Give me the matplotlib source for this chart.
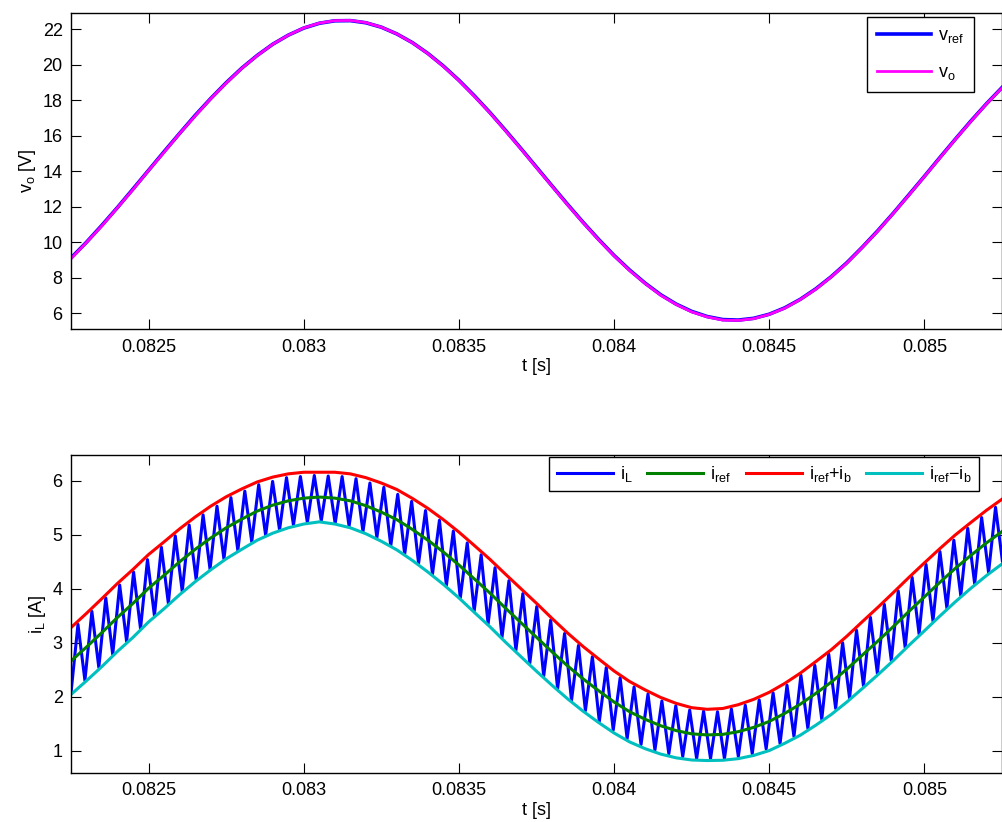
import numpy as np
import matplotlib
matplotlib.use("Agg")
import matplotlib.pyplot as plt

plt.rcParams['font.family'] = ['Liberation Sans', 'DejaVu Sans']
plt.rcParams['mathtext.fontset'] = 'custom'
plt.rcParams['mathtext.rm'] = 'Liberation Sans'
plt.rcParams['font.size'] = 13

# reference waveforms, sampled every 50 us from 0.08225 s to 0.08525 s
t_grid = np.linspace(0.08225, 0.08525, 61)

v_ref = [9.12, 10.01, 10.97, 11.97, 13.01, 14.06, 15.11, 16.14, 17.15, 18.10,
         18.99, 19.81, 20.53, 21.16, 21.67, 22.07, 22.34, 22.48, 22.49, 22.37,
         22.12, 21.74, 21.25, 20.64, 19.93, 19.13, 18.25, 17.31, 16.31, 15.28,
         14.23, 13.18, 12.14, 11.13, 10.17, 9.26, 8.44, 7.70, 7.05, 6.52,
         6.11, 5.82, 5.65, 5.62, 5.72, 5.95, 6.31, 6.79, 7.38, 8.07,
         8.85, 9.73, 10.66, 11.65, 12.68, 13.72, 14.78, 15.82, 16.84, 17.81,
         18.72]
v_o = [9.08, 10.00, 10.94, 11.96, 12.98, 14.05, 15.08, 16.13, 17.12, 18.09,
       18.97, 19.80, 20.52, 21.16, 21.67, 22.08, 22.35, 22.49, 22.50, 22.38,
       22.12, 21.74, 21.24, 20.63, 19.91, 19.11, 18.22, 17.29, 16.28, 15.26,
       14.20, 13.16, 12.11, 11.11, 10.14, 9.24, 8.41, 7.68, 7.02, 6.50,
       6.08, 5.80, 5.62, 5.60, 5.70, 5.94, 6.29, 6.78, 7.36, 8.06,
       8.83, 9.72, 10.64, 11.64, 12.66, 13.71, 14.76, 15.81, 16.82, 17.80,
       18.70]

i_ref = [2.66, 2.92, 3.19, 3.47, 3.73, 4.01, 4.25, 4.50, 4.73, 4.94,
         5.13, 5.29, 5.44, 5.55, 5.63, 5.68, 5.70, 5.68, 5.63, 5.54,
         5.42, 5.28, 5.10, 4.90, 4.68, 4.44, 4.18, 3.92, 3.64, 3.37,
         3.10, 2.83, 2.57, 2.33, 2.11, 1.90, 1.72, 1.58, 1.46, 1.37,
         1.31, 1.29, 1.30, 1.35, 1.43, 1.54, 1.69, 1.86, 2.06, 2.27,
         2.51, 2.77, 3.03, 3.30, 3.58, 3.85, 4.12, 4.38, 4.62, 4.85,
         5.06]
i_b = [0.62, 0.625, 0.63, 0.63, 0.63, 0.625, 0.62, 0.61, 0.60, 0.59,
       0.575, 0.56, 0.54, 0.52, 0.50, 0.48, 0.46, 0.48, 0.50, 0.52,
       0.54, 0.56, 0.575, 0.59, 0.60, 0.61, 0.62, 0.625, 0.63, 0.63,
       0.63, 0.62, 0.61, 0.60, 0.59, 0.575, 0.56, 0.545, 0.525, 0.505,
       0.485, 0.475, 0.48, 0.50, 0.52, 0.54, 0.555, 0.575, 0.59, 0.60,
       0.61, 0.62, 0.625, 0.63, 0.63, 0.63, 0.625, 0.62, 0.61, 0.605,
       0.60]

# inductor current: valley / peak of each switching cycle (half period 22.4 us)
il_valley = [2.07, 2.30, 2.54, 2.78, 3.02, 3.26, 3.50, 3.73, 3.95, 4.17,
             4.36, 4.55, 4.71, 4.87, 4.99, 5.09, 5.18, 5.23, 5.26, 5.21,
             5.16, 5.06, 4.95, 4.80, 4.64, 4.47, 4.27, 4.06, 3.83, 3.59,
             3.35, 3.10, 2.86, 2.62, 2.38, 2.15, 1.93, 1.74, 1.54, 1.38,
             1.22, 1.11, 1.01, 0.94, 0.89, 0.85, 0.85, 0.85, 0.89, 0.94,
             1.03, 1.13, 1.26, 1.41, 1.58, 1.78, 1.97, 2.20, 2.43, 2.67,
             2.91, 3.16, 3.40, 3.64, 3.87, 4.09, 4.30, 4.50]
il_peak = [3.34, 3.58, 3.83, 4.07, 4.31, 4.54, 4.77, 4.98, 5.18, 5.37,
           5.53, 5.69, 5.81, 5.93, 5.99, 6.06, 6.08, 6.10, 6.09, 6.08,
           6.04, 5.96, 5.88, 5.75, 5.62, 5.45, 5.27, 5.07, 4.85, 4.63,
           4.39, 4.15, 3.91, 3.67, 3.42, 3.17, 2.95, 2.74, 2.54, 2.35,
           2.18, 2.05, 1.92, 1.83, 1.75, 1.73, 1.72, 1.77, 1.84, 1.94,
           2.07, 2.21, 2.40, 2.58, 2.79, 3.00, 3.23, 3.47, 3.71, 3.96,
           4.21, 4.45, 4.69, 4.90, 5.12, 5.32, 5.51, 5.70]

i_ref = np.array(i_ref)
i_b = np.array(i_b)
i_L = np.column_stack([il_valley, il_peak]).ravel()
t_L = 0.08225 + 22.4e-6 * np.arange(len(i_L))

xticks = [0.0825, 0.083, 0.0835, 0.084, 0.0845, 0.085]
xticklabels = ['0.0825', '0.083', '0.0835', '0.084', '0.0845', '0.085']

fig = plt.figure(figsize=(10.03, 8.22), dpi=100)
ax1 = fig.add_axes([0.0708, 0.5998, 0.9282, 0.3844])
ax2 = fig.add_axes([0.0708, 0.0600, 0.9282, 0.3865])

for ax in (ax1, ax2):
    ax.tick_params(direction='in', length=7, width=0.8, top=True, right=True,
                   labelsize=13)
    ax.tick_params(axis='x', pad=7)
    ax.tick_params(axis='y', pad=6)
    for s in ax.spines.values():
        s.set_linewidth(1.0)
    ax.set_xlim(0.08225, 0.08525)
    ax.set_xticks(xticks)
    ax.set_xticklabels(xticklabels)
    ax.set_xlabel('t [s]', labelpad=2)

ax1.plot(t_grid, v_ref, color=(0, 0, 1), lw=2.6, label=r'$\mathregular{v_{ref}}$')
ax1.plot(t_grid, v_o, color=(1, 0, 1), lw=2.0, label=r'$\mathregular{v_o}$')
ax1.set_ylim(5.12, 22.92)
ax1.set_yticks(range(6, 23, 2))
ax1.set_ylabel(r'$\mathregular{v_o}$ [V]', labelpad=3)
ax1.legend(loc='upper right', bbox_to_anchor=(0.970, 0.987), borderaxespad=0,
           fancybox=False, framealpha=1, edgecolor='black', handlelength=3.0,
           handletextpad=0.4, labelspacing=1.05, borderpad=0.55, fontsize=13)

ax2.plot(t_L, i_L, color=(0, 0, 1), lw=2.2, label=r'$\mathregular{i_L}$')
ax2.plot(t_grid, i_ref, color=(0, 0.5, 0), lw=2.2, label=r'$\mathregular{i_{ref}}$')
ax2.plot(t_grid, i_ref + i_b, color=(1, 0, 0), lw=2.2,
         label=r'$\mathregular{i_{ref}{+}i_b}$')
ax2.plot(t_grid, i_ref - i_b, color=(0, 0.75, 0.75), lw=2.2,
         label=r'$\mathregular{i_{ref}{-}i_b}$')
ax2.set_ylim(0.59, 6.48)
ax2.set_yticks(range(1, 7))
ax2.set_ylabel(r'$\mathregular{i_L}$ [A]', labelpad=3)
ax2.legend(loc='upper right', bbox_to_anchor=(0.975, 0.994), borderaxespad=0,
           ncol=4, fancybox=False, framealpha=1, edgecolor='black',
           handlelength=3.1, handletextpad=0.4, columnspacing=0.8, fontsize=13)

fig.savefig('out.png', dpi=100)
